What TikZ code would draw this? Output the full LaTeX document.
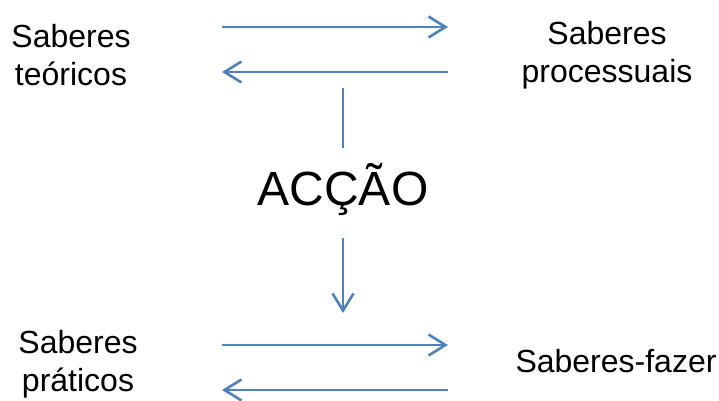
\documentclass[tikz,border=0pt]{standalone}
\usepackage{fontspec}
\setmainfont{Liberation Sans}
\usetikzlibrary{arrows.meta}
\definecolor{pfeilblau}{HTML}{4F81BD}
\begin{document}
\begin{tikzpicture}
		[x=1pt, y=-1pt,
		every node/.style={align=center, inner sep=0pt, font=\fontsize{32}{38}\selectfont},
		pfeil/.style={draw=pfeilblau, line width=2.6pt, -{Straight Barb[length=17pt,width=21pt,line width=2.6pt]}},
		linie/.style={draw=pfeilblau, line width=2.6pt},
		]
		\useasboundingbox (0,0) rectangle (719,400);

		\node (theorie) at (71,55) {Saberes\\teóricos};
		\node (prozess) at (607,55) {Saberes\\processuais};
		\node[font=\fontsize{48}{56}\selectfont] (aktion) at (343,190) {ACÇÃO};
		\node (praxis) at (78,364) {Saberes\\práticos};
		\node (machen) at (616,361) {Saberes-fazer};

		% Pfeile oben
		\coordinate (o1) at (222,27);
		\coordinate (o2) at (448,27);
		\coordinate (o3) at (448,72);
		\coordinate (o4) at (222,72);
		\draw[pfeil] (o1) -- (o2);
		\draw[pfeil] (o3) -- (o4);

		% Mitte
		\draw[linie] (343,88) -- (aktion.north |- 0,148);
		\draw[pfeil] (aktion.south |- 0,238) -- (343,313);

		% Pfeile unten
		\coordinate (u1) at (222,345);
		\coordinate (u2) at (448,345);
		\coordinate (u3) at (448,390);
		\coordinate (u4) at (222,390);
		\draw[pfeil] (u1) -- (u2);
		\draw[pfeil] (u3) -- (u4);
	\end{tikzpicture}
\end{document}
